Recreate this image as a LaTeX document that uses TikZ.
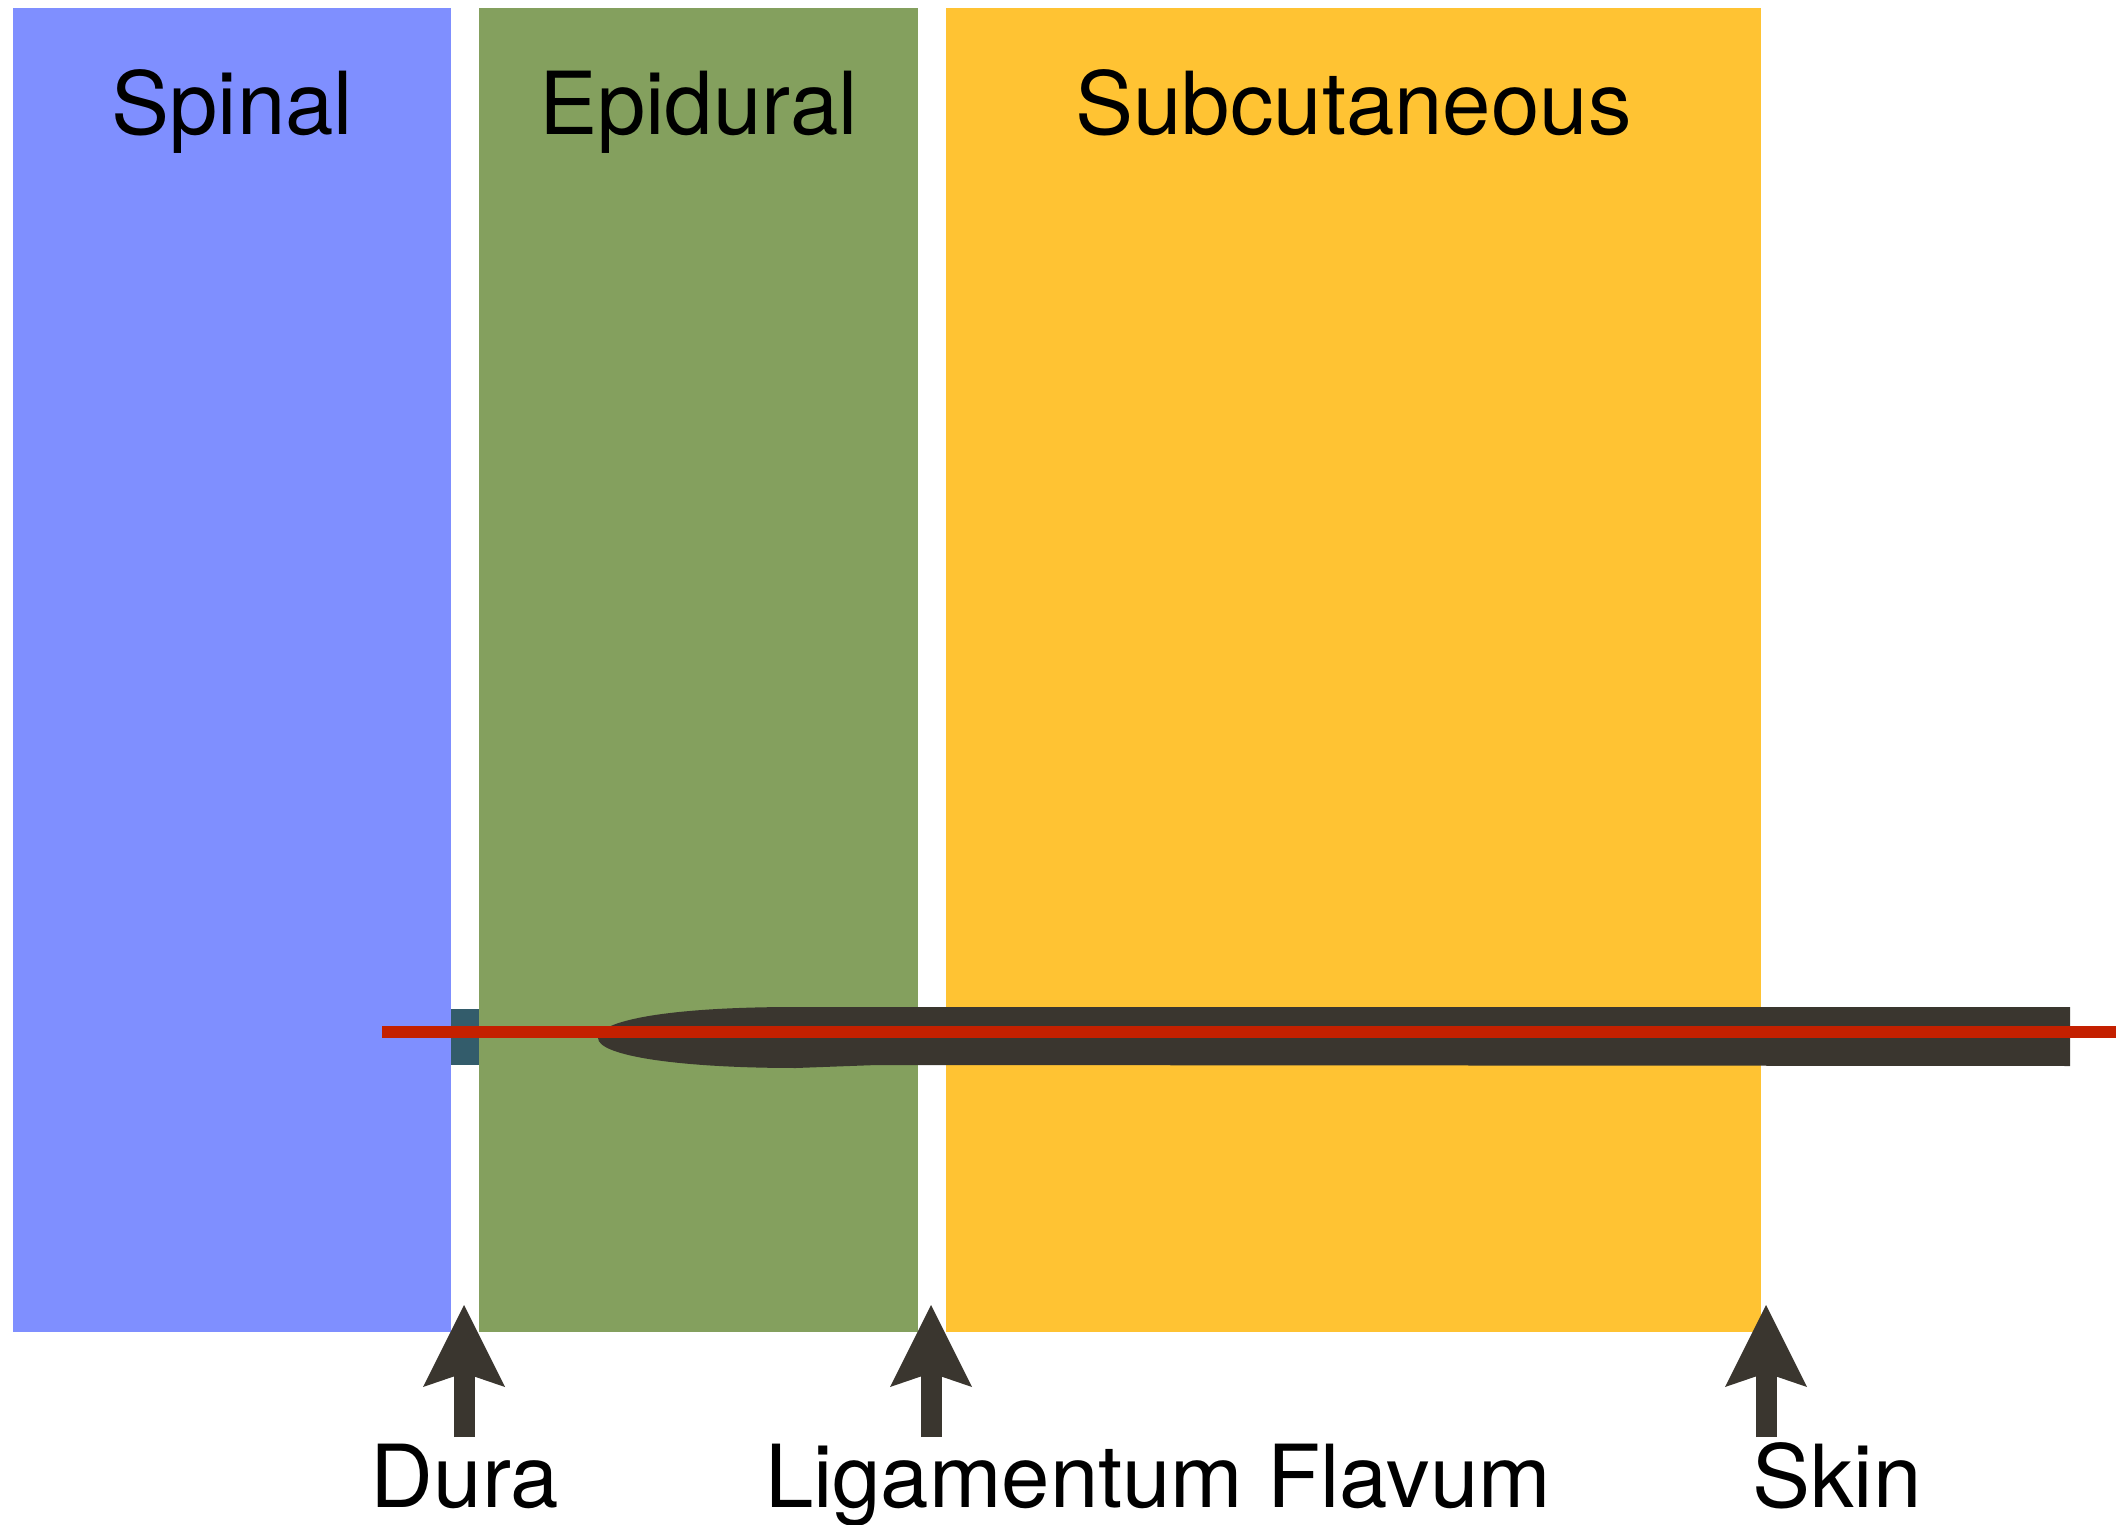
\documentclass[tikz,border=0pt]{standalone}
\usepackage{fontspec}
\setmainfont{TeX Gyre Heros}
\usepackage{xcolor}
\usepackage{tikz}
\usetikzlibrary{arrows.meta,positioning,calc}
\definecolor{spinalblue}{RGB}{127, 143, 255}
\definecolor{epigreen}{RGB}{132, 160, 94}
\definecolor{subcutyellow}{RGB}{255, 195, 51}
\definecolor{needledark}{RGB}{58, 54, 47}
\definecolor{duracyan}{RGB}{51, 92, 107}
\definecolor{wirered}{RGB}{196, 32, 0}

\begin{document}
\begin{tikzpicture}[
    x=1cm, y=-1cm,
    layer/.style={fill=#1, draw=none, inner sep=0pt, outer sep=0pt, anchor=north west, minimum height=13.24cm},
    toplabel/.style={anchor=base, inner sep=0pt, font=\fontsize{24.75}{30}\selectfont},
    botlabel/.style={anchor=base, inner sep=0pt, font=\fontsize{24.75}{30}\selectfont},
    pointer/.style={line width=2.1mm, needledark, -{Stealth[length=8.2mm, width=8.2mm, inset=1.4mm, line width=0pt]}}
]
\useasboundingbox (0,0) rectangle (21.16,15.25);

% Tissue layers
\node[layer=spinalblue, minimum width=4.375cm] (spinal) at (0.135,0.08) {};
\node[layer=epigreen, minimum width=4.39cm] (epidural) at (4.79,0.08) {};
\node[layer=subcutyellow, minimum width=8.15cm] (subcut) at (9.46,0.08) {};

\node[toplabel] (spinallbl) at ([yshift=-1.27cm]spinal.north) {Spinal};
\node[toplabel] (epidurallbl) at ([yshift=-1.27cm]epidural.north) {Epidural};
\node[toplabel] (subcutlbl) at ([yshift=-1.27cm]subcut.north) {Subcutaneous};

% Dura puncture
\fill[duracyan] (4.51,10.09) rectangle (4.79,10.65);

% Needle
\fill[needledark] (20.70,10.07) -- (7.96,10.07)
    .. controls (6.60,10.07) and (5.98,10.22) .. (5.98,10.38)
    .. controls (5.98,10.56) and (6.80,10.68) .. (7.96,10.68)
    -- (8.77,10.65) -- (20.70,10.66) -- cycle;

% Catheter
\coordinate (wirestart) at (3.82,10.32);
\coordinate (wireend) at (21.16,10.32);
\draw[wirered, line width=1.2mm] (wirestart) -- (wireend);

% ==================== MARKERS ====================
\coordinate (duratip) at (4.64,13.05);
\coordinate (durafoot) at (4.64,14.37);
\coordinate (ligtip) at (9.31,13.05);
\coordinate (ligfoot) at (9.31,14.37);
\coordinate (skintip) at (17.66,13.05);
\coordinate (skinfoot) at (17.66,14.37);

\node[botlabel] (duralbl) at (4.65,15.07) {Dura};
\node[botlabel] (liglbl) at (11.58,15.07) {Ligamentum Flavum};
\node[botlabel] (skinlbl) at (18.37,15.07) {Skin};

\draw[pointer] (durafoot) -- (duratip);
\draw[pointer] (ligfoot) -- (ligtip);
\draw[pointer] (skinfoot) -- (skintip);

\end{tikzpicture}
\end{document}
